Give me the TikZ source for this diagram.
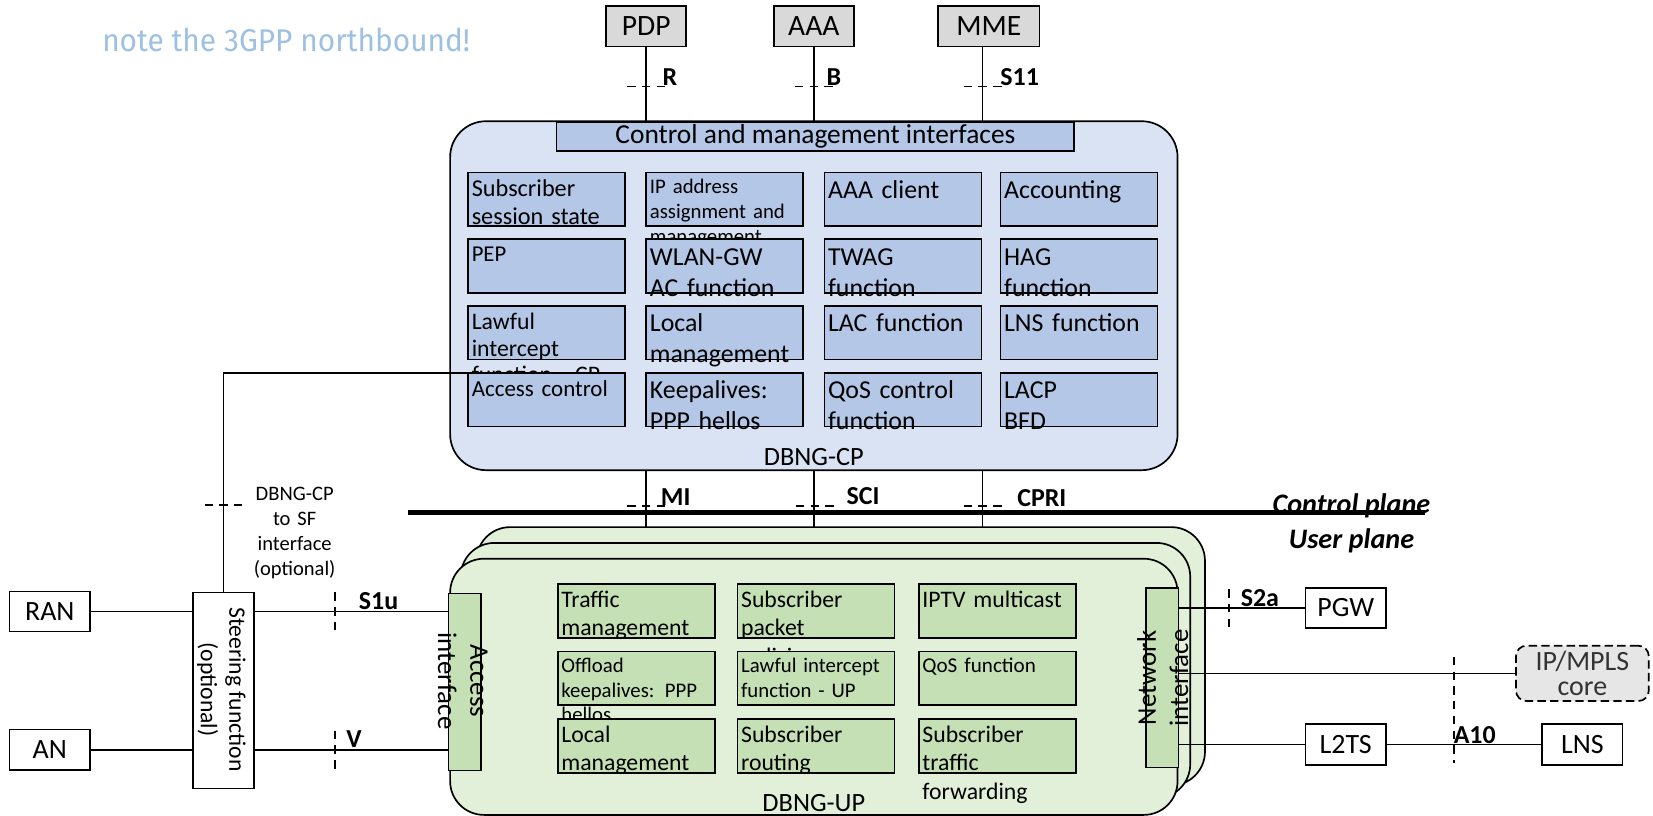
\documentclass[tikz,border=0pt]{standalone}
\usepackage{fontspec}
\setmainfont{Carlito}
\newfontfamily\notefont{Fira Sans}
\usetikzlibrary{calc}

\definecolor{cpback}{RGB}{218,227,243}
\definecolor{cpcellfill}{RGB}{180,199,231}
\definecolor{upback}{RGB}{226,240,217}
\definecolor{upcellfill}{RGB}{197,224,180}
\definecolor{greyfill}{RGB}{217,217,217}
\definecolor{corefill}{RGB}{231,230,230}
\definecolor{notecol}{RGB}{157,192,227}

\newcommand{\fsz}[2]{\fontsize{#1pt}{#2pt}\selectfont}
% function cell: style, name, left, top, font, first baseline offset, text
\newcommand{\cell}[7]{%
  \node[#1] (#2) at ({#3+74.5},{#4+25.5}) {};
  \node[celltext, font=#5] (#2t) at ({#3+3.5},{#4+#6}) {#7};}

\begin{document}
\begin{tikzpicture}[x=0.5pt,y=-0.5pt,
  every node/.style={inner sep=0pt,outer sep=0pt},
  frame/.style={draw,line width=0.8pt},
  wire/.style={line width=0.8pt},
  cut/.style={line width=0.8pt,dash pattern=on 4pt off 3pt},
  topbox/.style={frame,fill=greyfill,font=\fsz{14}{16.8},minimum height=19pt},
  extbox/.style={frame,fill=white,font=\fsz{13.25}{15.9},minimum width=38pt,minimum height=19.25pt},
  cpcell/.style={frame,fill=cpcellfill,minimum width=74.5pt,minimum height=25.5pt},
  upcell/.style={frame,fill=upcellfill,minimum width=74.5pt,minimum height=25.5pt},
  celltext/.style={anchor=base west,text width=70pt,align=left},
  lbl/.style={font=\bfseries\fsz{12.3}{14.8},anchor=base west},
  plane/.style={font=\bfseries\itshape\fsz{13.4}{16},anchor=base},
  upbox/.style={frame,fill=upback,rounded corners=16pt},
]
\useasboundingbox (0,0) rectangle (1568,774);

\node[anchor=base west,font=\notefont\fsz{14.9}{18},text=notecol,xscale=0.95] (note) at (97,49) {note the 3GPP northbound!};

% northbound peers
\node[topbox,minimum width=38pt] (pdp) at (613,25) {PDP};
\node[topbox,minimum width=38pt] (aaa) at (772,25) {AAA};
\node[topbox,minimum width=48pt] (mme) at (938,25) {MME};
\coordinate (mmefoot) at ([xshift=-3pt]mme.south);

% control plane
\node[frame,fill=cpback,rounded corners=17pt,minimum width=345pt,minimum height=165.5pt] (cp) at (772,280.5) {};
\draw[wire] (pdp.south) -- (pdp.south |- cp.north);
\draw[wire] (aaa.south) -- (aaa.south |- cp.north);
\draw[wire] (mmefoot) -- (mmefoot |- cp.north);
\draw[cut] (595,82) -- (631,82);
\draw[cut] (754,82) -- (790,82);
\draw[cut] (914,82) -- (950,82);
\node[lbl] (lr) at (628.5,81) {R};
\node[lbl] (lb) at (784,81) {B};
\node[lbl] (ls11) at (949,81) {S11};

\node[frame,fill=cpcellfill,minimum width=245.5pt,minimum height=13.5pt,font=\fsz{13}{15.6}] (cmi) at (773.5,129.5) {Control and management interfaces};

\cell{cpcell}{c11}{444}{163.5}{\fsz{11.5}{13}}{23}{Subscriber\\session state}
\cell{cpcell}{c12}{613}{163.5}{\fsz{9.85}{11.85}}{20}{IP address\\assignment and\\management}
\cell{cpcell}{c13}{782}{163.5}{\fsz{12.25}{14.7}}{24.5}{AAA client}
\cell{cpcell}{c14}{949}{163.5}{\fsz{12.25}{14.7}}{24.5}{Accounting}

\cell{cpcell}{c21}{444}{227}{\fsz{10.75}{12.9}}{21.5}{PEP}
\cell{cpcell}{c22}{613}{227}{\fsz{12.25}{14.7}}{24.5}{WLAN-GW\\AC function}
\cell{cpcell}{c23}{782}{227}{\fsz{12.25}{14.7}}{24.5}{TWAG\\function}
\cell{cpcell}{c24}{949}{227}{\fsz{12.25}{14.7}}{24.5}{HAG\\function}

\cell{cpcell}{c31}{444}{290}{\fsz{11.25}{12.65}}{22.6}{Lawful\\intercept\\function - CP}
\cell{cpcell}{c32}{613}{290}{\fsz{12.25}{14.7}}{24.5}{Local\\management}
\cell{cpcell}{c33}{782}{290}{\fsz{12.25}{14.7}}{24.5}{LAC function}
\cell{cpcell}{c34}{949}{290}{\fsz{12.25}{14.7}}{24.5}{LNS function}

\cell{cpcell}{c41}{444}{353.5}{\fsz{10.9}{13}}{22.5}{Access control}
\cell{cpcell}{c42}{613}{353.5}{\fsz{12.25}{14.7}}{24.5}{Keepalives:\\PPP hellos}
\cell{cpcell}{c43}{782}{353.5}{\fsz{12.25}{14.7}}{24.5}{QoS control\\function}
\cell{cpcell}{c44}{949}{353.5}{\fsz{12.25}{14.7}}{24.5}{LACP\\BFD}

\node[font=\fsz{12.5}{15}] (cpname) at (772,434) {DBNG-CP};

% user plane instances
\node[upbox,minimum width=345.5pt,minimum height=122.5pt] (up3) at (797.5,622.5) {};
\node[upbox,minimum width=346pt,minimum height=121pt] (up2) at (783,636) {};
\node[upbox,minimum width=345pt,minimum height=121.5pt] (up1) at (772,651.5) {};

\cell{upcell}{u11}{529}{554}{\fsz{11.25}{13.5}}{22}{Traffic\\management}
\cell{upcell}{u12}{699.5}{554}{\fsz{11.25}{13.5}}{22}{Subscriber\\packet\\policing}
\cell{upcell}{u13}{871.5}{554}{\fsz{11.25}{13.5}}{22}{IPTV multicast}

\cell{upcell}{u21}{529}{618}{\fsz{9.85}{11.7}}{20}{Offload\\keepalives: PPP\\hellos}
\cell{upcell}{u22}{699.5}{618}{\fsz{9.85}{11.7}}{20}{Lawful intercept\\function - UP}
\cell{upcell}{u23}{871.5}{618}{\fsz{10}{12}}{20}{QoS function}

\cell{upcell}{u31}{529}{682}{\fsz{11.25}{13.5}}{22}{Local\\management}
\cell{upcell}{u32}{699.5}{682}{\fsz{11.25}{13.5}}{22}{Subscriber\\routing}
\cell{upcell}{u33}{871.5}{682}{\fsz{11.25}{13.5}}{22}{Subscriber\\traffic\\forwarding}

\node[font=\fsz{12.5}{15}] (upname) at (772,762) {DBNG-UP};

% CP to UP interfaces
\draw[wire] (pdp.south |- cp.south) -- (pdp.south |- up3.north);
\draw[wire] (aaa.south |- cp.south) -- (aaa.south |- up3.north);
\draw[wire] (mmefoot |- cp.south) -- (mmefoot |- up3.north);
\draw[cut] (595,480) -- (631,480);
\draw[cut] (755,480) -- (791,480);
\draw[cut] (914,480) -- (950,480);
\node[lbl] (lmi) at (627,479.5) {MI};
\node[lbl] (lsci) at (803,478.5) {SCI};
\node[lbl] (lcpri) at (965,480) {CPRI};

% plane separator
\coordinate (planeL) at (387,486);
\coordinate (planeR) at (1352,486);
\draw[line width=2.5pt] (planeL) -- (planeR);
\node[plane] (cplane) at (1282,487) {Control plane};
\node[plane] (uplane) at (1282,520) {User plane};

% access side
\node[frame,fill=upcellfill,minimum width=15.25pt,minimum height=84pt] (acc) at (440.75,647) {};
\node[rotate=-90,align=center,font=\fsz{12.75}{15.25}] (acct) at (439,646) {Access\\interface};

\node[frame,fill=white,minimum width=29pt,minimum height=93pt] (sf) at (212,655) {};
\node[rotate=-90,align=center,font=\fsz{11.2}{13.5}] (sft) at (210,654) {Steering function\\(optional)};

\node[extbox,minimum width=38.25pt,minimum height=19pt] (ran) at (47.25,580) {RAN};
\node[extbox,minimum width=38.25pt,minimum height=19.25pt] (an) at (47.25,711.25) {AN};

\draw[wire] (ran.east) -- (ran.east -| sf.west);
\draw[wire] (an.east) -- (an.east -| sf.west);
\draw[wire] (ran.east -| sf.east) -- (ran.east -| acc.west);
\draw[wire] (an.east -| sf.east) -- (an.east -| acc.west);
\draw[cut] (317.5,562) -- (317.5,598);
\draw[cut] (317.5,693) -- (317.5,729);
\node[lbl] (ls1u) at (340.5,578) {S1u};
\node[lbl] (lv) at (328.5,709) {V};

\draw[wire] (sf.north) |- (c41.north west);
\draw[cut] (194,479) -- (230,479);
\node[anchor=base,text width=60pt,align=center,font=\fsz{9.75}{11.85}] (sfif) at (279.5,474.5) {DBNG-CP\\to SF\\interface\\(optional)};

% network side
\node[frame,fill=upcellfill,minimum width=15.5pt,minimum height=85.25pt] (net) at (1102.5,642.75) {};
\node[rotate=90,align=center,font=\fsz{12.75}{15.25}] (nett) at (1103,643) {Network\\interface};

\node[extbox] (pgw) at (1276.5,576.75) {PGW};
\node[extbox] (l2ts) at (1276.5,706.25) {L2TS};
\node[extbox] (lns) at (1501,706.25) {LNS};
\node[draw,line width=0.8pt,dash pattern=on 4pt off 2pt,rounded corners=5pt,fill=corefill,
      minimum width=63pt,minimum height=26.25pt,align=center,font=\fsz{13.25}{12.2},text=black!80] (core) at (1501,638.75) {IP/MPLS\\core};

\draw[wire] (pgw.west -| net.east) -- (pgw.west);
\draw[wire] (core.west -| net.east) -- (core.west);
\draw[wire] (l2ts.west -| net.east) -- (l2ts.west);
\draw[wire] (l2ts.east) -- (lns.west);
\draw[cut] (1165.5,559) -- (1165.5,595);
\draw[cut] (1379.5,623) -- (1379.5,724);
\node[lbl] (ls2a) at (1177,575) {S2a};
\node[lbl] (la10) at (1379,705) {A10};
\end{tikzpicture}
\end{document}
